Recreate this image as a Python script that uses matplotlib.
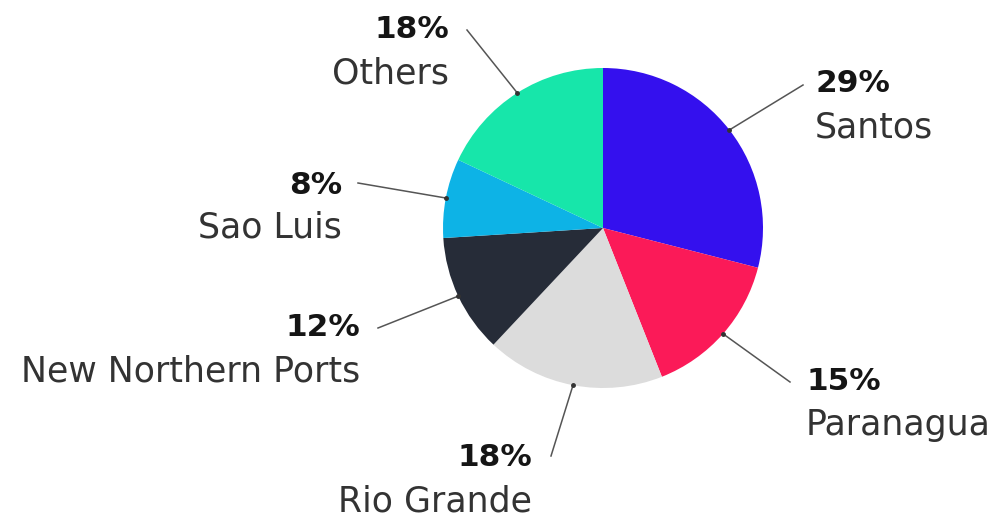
import numpy as np
import matplotlib
matplotlib.use("Agg")
import matplotlib.pyplot as plt

# ---- data ----
ports = ["Santos", "Paranagua", "Rio Grande", "New Northern Ports", "Sao Luis", "Others"]
shares = [29, 15, 18, 12, 8, 18]

# ---- style / layout ----
colors = ["#3410ee", "#fb1a58", "#dcdcdc", "#262c38", "#0db3e6", "#17e6aa"]
W, H = 995, 517
center = (603, 228)
radius = 160
# label anchor (x, y of percent line), alignment, leader line end
label_pos = [
    (815, 84, "left", (803, 85)),
    (806, 382, "left", (790, 382)),
    (532, 458, "right", (551, 456)),
    (360, 328, "right", (378, 328)),
    (342, 185, "right", (358, 183)),
    (449, 30, "right", (467, 30)),
]
line_gap = 43
font = ["DejaVu Sans"]

fig = plt.figure(figsize=(W / 100, H / 100), dpi=100)
ax = fig.add_axes([0, 0, 1, 1])
wedges, _ = ax.pie(shares, colors=colors, center=center, radius=radius,
                   startangle=-90, counterclock=True,
                   wedgeprops=dict(linewidth=0))
ax.set_xlim(0, W)
ax.set_ylim(H, 0)
ax.set_aspect("auto")
ax.axis("off")

for w, share, name, (tx, ty, ha, lend) in zip(wedges, shares, ports, label_pos):
    ang = np.deg2rad((w.theta1 + w.theta2) / 2)
    sx = w.center[0] + w.r * np.cos(ang)
    sy = w.center[1] + w.r * np.sin(ang)
    ax.plot([sx, lend[0]], [sy, lend[1]], color="#555555", lw=1.1, zorder=3)
    ax.plot([sx], [sy], marker="o", ms=2.5, color="#333333", zorder=4)
    ax.text(tx, ty, f"{share}%", ha=ha, va="center", fontsize=22.5,
            fontweight="bold", color="#151515", family=font)
    ax.text(tx, ty + line_gap, name, ha=ha, va="center", fontsize=25,
            color="#333333", family=font)

fig.savefig("out.png", dpi=100, facecolor="white")
